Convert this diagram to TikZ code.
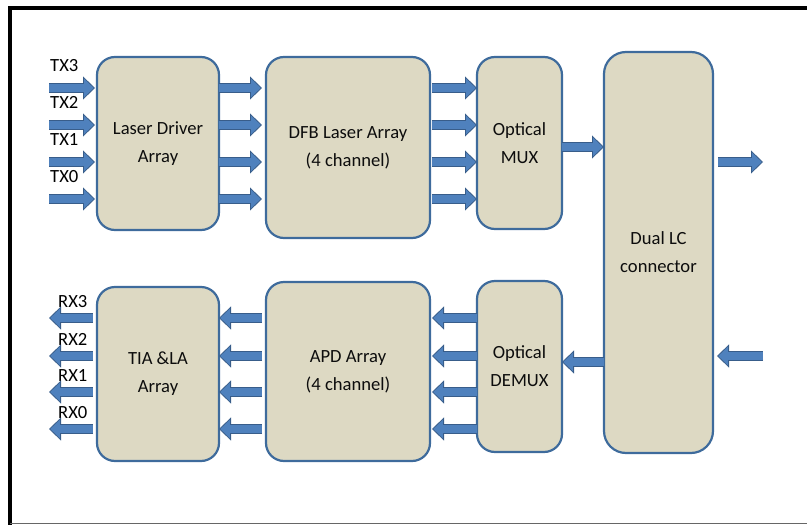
\documentclass[tikz,border=0pt]{standalone}
\usepackage{fontspec}
\setmainfont{Carlito}
\usetikzlibrary{positioning,arrows.meta}
\definecolor{BoxTan}{HTML}{DDD9C3}
\definecolor{BoxLine}{HTML}{3E6B9C}
\definecolor{ArrFill}{HTML}{4F81BD}
\definecolor{ArrLine}{HTML}{385D8A}

\begin{document}
\begin{tikzpicture}[x=1pt, y=-1pt,
        block/.style={rectangle, draw=BoxLine, line width=2.2pt, rounded corners=18pt, fill=BoxTan, inner sep=0pt, outer sep=0pt, align=center, text=black!95, font=\fontsize{18.6}{28}\selectfont},
        fat/.style={draw=ArrLine, line width=9.5pt, -{Triangle[length=12pt, width=23pt, line width'=0.8pt, fill=ArrFill]}, postaction={draw=ArrFill, line width=8pt, -, shorten >=11pt}},
        lbl/.style={inner sep=0pt, font=\fontsize{18.6}{20}\selectfont}]

        \useasboundingbox (0,0) rectangle (807,525);
        \draw[line width=4pt] (10,525) -- (10,8) -- (807,8);
        \draw[black!60, line width=1.5pt] (10,523.5) -- (807,523.5);

        % transmit side
        \node[block, minimum width=122pt, minimum height=173pt] (ld) at (158,143.5) {Laser Driver\\Array};
        \node[block, minimum width=164pt, minimum height=181pt, right=47pt of ld.north east, anchor=north west] (dfb) {DFB Laser Array\\(4 channel)};
        \node[block, minimum width=85pt, minimum height=172pt, right=47pt of dfb.north east, anchor=north west] (mux) {Optical\\MUX};
        \node[block, minimum width=109pt, minimum height=401pt, rounded corners=22pt] (dual) at (658.5,252.5) {Dual LC\\connector};

        % receive side
        \node[block, minimum width=122pt, minimum height=174pt, below=57pt of ld] (tia) {TIA \&LA\\Array};
        \node[block, minimum width=164pt, minimum height=179pt, below=44pt of dfb] (apd) {APD Array\\(4 channel)};
        \node[block, minimum width=85pt, minimum height=171pt, below=52pt of mux] (demux) {Optical\\DEMUX};

        \coordinate (tx3) at (49,88);
        \coordinate (tx2) at (49,125);
        \coordinate (tx1) at (49,162);
        \coordinate (tx0) at (49,199);
        \coordinate (rx3) at (49,318);
        \coordinate (rx2) at (49,356);
        \coordinate (rx1) at (49,392);
        \coordinate (rx0) at (49,429);
        \coordinate (lcout) at (763,162);
        \coordinate (lcin) at (763,356);

        \foreach \c/\t in {tx3/TX3, tx2/TX2, tx1/TX1, tx0/TX0} {
            \node[lbl, anchor=base west] (l\c) at ([xshift=1pt, yshift=17pt]\c) {\t};
            \draw[fat, shorten >=2pt] (\c) -- (ld.west |- \c);
            \draw[fat, shorten >=4pt] (ld.east |- \c) -- (dfb.west |- \c);
            \draw[fat] ([xshift=2pt]dfb.east |- \c) -- (mux.west |- \c);
        }
        \draw[fat] ([yshift=-4pt]mux.east) -- ([yshift=-4pt]mux.east -| dual.west);
        \draw[fat] ([xshift=5pt]dual.east |- lcout) -- (lcout);

        \draw[fat, shorten >=4pt] (lcin) -- (dual.east |- lcin);
        \draw[fat] ([yshift=4.5pt]demux.east -| dual.west) -- ([yshift=4.5pt]demux.east);
        \foreach \c/\t in {rx3/RX3, rx2/RX2, rx1/RX1, rx0/RX0} {
            \node[lbl, anchor=base west] (l\c) at ([xshift=9pt, yshift=11pt]\c) {\t};
            \draw[fat] (demux.west |- \c) -- ([xshift=2pt]apd.east |- \c);
            \draw[fat] ([xshift=-4pt]apd.west |- \c) -- (tia.east |- \c);
            \draw[fat] ([xshift=-4pt]tia.west |- \c) -- (\c);
        }
    \end{tikzpicture}
\end{document}
